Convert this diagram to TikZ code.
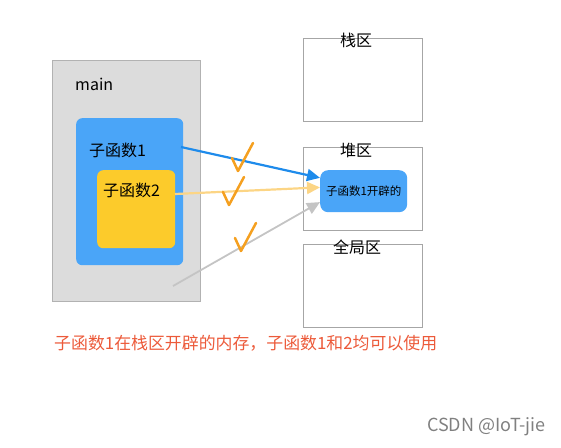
\documentclass[tikz,border=0pt]{standalone}
\usepackage{fontspec}
\setmainfont{Noto Sans CJK SC}
\usetikzlibrary{arrows.meta, positioning}
\definecolor{MainGray}{HTML}{DCDCDC}
\definecolor{FuncBlue}{HTML}{4AA5F8}
\definecolor{FuncYellow}{HTML}{FCCB2B}
\definecolor{ArrowBlue}{HTML}{1E8BEB}
\definecolor{ArrowYellow}{HTML}{FCD585}
\definecolor{ArrowGray}{HTML}{C4C4C4}
\definecolor{TickOrange}{HTML}{F5A020}
\definecolor{NoteRed}{HTML}{EC5A3A}

\begin{document}
\begin{tikzpicture}[x=1pt, y=-1pt, >={Triangle[length=13pt, width=12pt]},
        areabox/.style={rectangle, draw=gray!70, fill=white, line width=0.8pt, anchor=north west, minimum width=119pt, minimum height=83pt},
        funcbox/.style={rectangle, rounded corners=6pt, anchor=north west, inner sep=0pt},
        title/.style={font=\fontsize{16}{16}\selectfont, inner sep=1pt},
        tick/.style={TickOrange, line width=2.5pt, line cap=round, line join=round},
        arrow/.style={->, line width=2.2pt}]
        \useasboundingbox (0,0) rectangle (561,447);

        % main and its functions
        \node[rectangle, draw=gray!60, fill=MainGray, anchor=north west, minimum width=148pt, minimum height=241pt, line width=0.8pt] (main) at (52,60) {};
        \node[title, anchor=west] (mainlabel) at (74,84) {main};
        \node[funcbox, fill=FuncBlue, minimum width=107pt, minimum height=147pt] (f1) at (76,118) {};
        \node[title, anchor=west] (f1label) at (88,150) {子函数1};
        \node[funcbox, fill=FuncYellow, minimum width=78pt, minimum height=78pt] (f2) at (97,170) {};
        \node[title, anchor=west] (f2label) at (102,190) {子函数2};

        % memory areas
        \node[areabox] (stack) at (303,38) {};
        \node[title] (stacklabel) at (356,40) {栈区};
        \node[areabox] (heap) at (303,147) {};
        \node[title] (heaplabel) at (356,150) {堆区};
        \node[funcbox, fill=FuncBlue, minimum width=87pt, minimum height=42pt, rounded corners=8pt] (mem) at (320,170) {};
        \node[font=\fontsize{11.5}{11.5}\selectfont] (memlabel) at (mem.center) {子函数1开辟的};
        \node[areabox] (global) at (303,244) {};
        \node[title] (globallabel) at (357,247) {全局区};

        \coordinate (f1out) at (181,147);
        \coordinate (f2out) at (175,194);
        \coordinate (mainout) at (173,286);
        \draw[arrow, ArrowBlue] (f1out) -- (mem.163);
        \draw[arrow, ArrowYellow] (f2out) -- (mem.175);
        \draw[arrow, ArrowGray, line width=1.8pt] (mainout) -- (mem.194);

        % ticks
        \foreach \tx/\ty in {238/171, 229/205, 241/251}
            \draw[tick] (\tx-6,\ty-13) -- (\tx,\ty) -- (\tx+15,\ty-28);

        \node[anchor=west, text=NoteRed, font=\fontsize{16.9}{16.9}\selectfont, inner sep=0pt] (note) at (54,343) {子函数1在栈区开辟的内存，子函数1和2均可以使用};
        \node[anchor=east, text=gray, font=\fontsize{18}{18}\selectfont, inner sep=0pt] (credit) at (546,427) {CSDN @IoT-jie};
    \end{tikzpicture}
\end{document}
